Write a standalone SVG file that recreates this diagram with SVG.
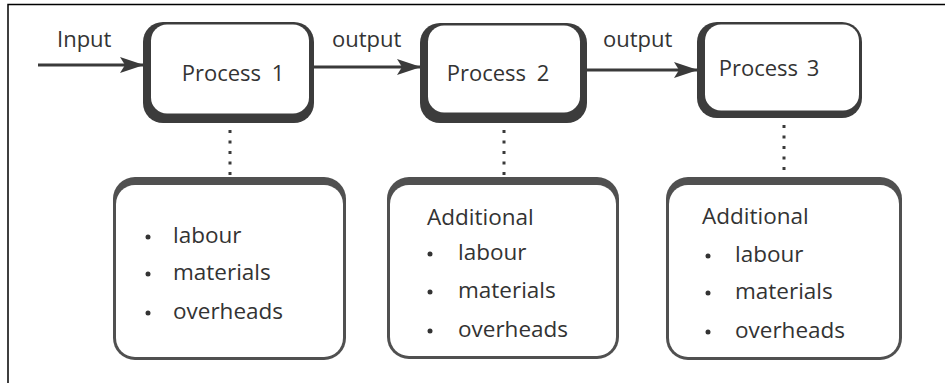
<svg xmlns="http://www.w3.org/2000/svg" width="945" height="383" viewBox="0 0 945 383">
  <style>
    .lbl { font-family: "Open Sans", "Liberation Sans", sans-serif; font-size: 22px; fill: #333333; }
    .item { font-family: "Open Sans", "Liberation Sans", sans-serif; font-size: 22.5px; fill: #333333; }
    .proc { font-family: "Open Sans", "Liberation Sans", sans-serif; font-size: 22px; fill: #333333; }
    .rim { fill: #3c3c3c; }
    .rim2 { fill: #505050; }
    .face { fill: #ffffff; }
    .flow { stroke: #3a3a3a; stroke-width: 3; fill: none; }
    .dots { stroke: #3a3a3a; stroke-width: 3; stroke-dasharray: 3 7.5; fill: none; }
    .bul { fill: #333333; }
  </style>
  <defs>
    <marker id="head" viewBox="0 0 24 16" refX="23" refY="8" markerWidth="24" markerHeight="16" markerUnits="userSpaceOnUse" orient="auto">
      <path d="M0,0 L24,8 L0,16 L5,8 Z" fill="#3a3a3a"/>
    </marker>
  </defs>

  <rect width="945" height="383" fill="#ffffff"/>
  <!-- outer frame (left and top edges) -->
  <path d="M8,383 V4.5 H945" fill="none" stroke="#000000" stroke-width="1.5"/>

  <g id="connectors">
    <line class="flow" x1="38" y1="65" x2="143" y2="65" marker-end="url(#head)"/>
    <line class="flow" x1="314" y1="67" x2="420" y2="67" marker-end="url(#head)"/>
    <line class="flow" x1="587" y1="70" x2="697" y2="70" marker-end="url(#head)"/>
    <line class="dots" x1="230" y1="130" x2="230" y2="178"/>
    <line class="dots" x1="504" y1="130" x2="504" y2="178"/>
    <line class="dots" x1="784" y1="125" x2="784" y2="178"/>
    <text class="lbl" x="57" y="47">Input</text>
    <text class="lbl" x="332" y="47">output</text>
    <text class="lbl" x="603" y="47">output</text>
  </g>

  <g id="process1">
    <rect class="rim" x="143" y="22" width="171" height="101" rx="20"/>
    <rect class="face" x="151" y="24.5" width="158" height="89" rx="16"/>
    <text class="proc" x="233" y="81" text-anchor="middle" word-spacing="5">Process 1</text>
  </g>

  <g id="process2">
    <rect class="rim" x="420" y="23" width="167" height="100" rx="20"/>
    <rect class="face" x="428" y="25.5" width="152" height="87" rx="16"/>
    <text class="proc" x="498" y="81" text-anchor="middle" word-spacing="5">Process 2</text>
  </g>

  <g id="process3">
    <rect class="rim" x="697" y="22" width="165" height="96" rx="20"/>
    <rect class="face" x="705" y="24.5" width="154" height="86" rx="16"/>
    <text class="proc" x="769" y="76" text-anchor="middle" word-spacing="3">Process 3</text>
  </g>

  <g id="costs1">
    <rect class="rim2" x="113" y="177" width="233" height="183" rx="22"/>
    <rect class="face" x="116" y="185" width="227" height="172" rx="19"/>
    <circle class="bul" cx="148" cy="237" r="2.5"/>
    <circle class="bul" cx="148" cy="274" r="2.5"/>
    <circle class="bul" cx="148" cy="313" r="2.5"/>
    <text class="item" x="173" y="243">labour</text>
    <text class="item" x="173" y="280">materials</text>
    <text class="item" x="173" y="319">overheads</text>
  </g>

  <g id="costs2">
    <rect class="rim2" x="387" y="177" width="232" height="182" rx="22"/>
    <rect class="face" x="390" y="185" width="226" height="171" rx="19"/>
    <text class="item" x="427" y="225">Additional</text>
    <circle class="bul" cx="430" cy="254" r="2.5"/>
    <circle class="bul" cx="430" cy="292" r="2.5"/>
    <circle class="bul" cx="430" cy="331" r="2.5"/>
    <text class="item" x="458" y="260">labour</text>
    <text class="item" x="458" y="298">materials</text>
    <text class="item" x="458" y="337">overheads</text>
  </g>

  <g id="costs3">
    <rect class="rim2" x="666" y="177" width="236" height="183" rx="22"/>
    <rect class="face" x="669" y="185" width="230" height="172" rx="19"/>
    <text class="item" x="702" y="224">Additional</text>
    <circle class="bul" cx="708" cy="256" r="2.5"/>
    <circle class="bul" cx="708" cy="293" r="2.5"/>
    <circle class="bul" cx="708" cy="332" r="2.5"/>
    <text class="item" x="735" y="262">labour</text>
    <text class="item" x="735" y="299">materials</text>
    <text class="item" x="735" y="338">overheads</text>
  </g>
</svg>
